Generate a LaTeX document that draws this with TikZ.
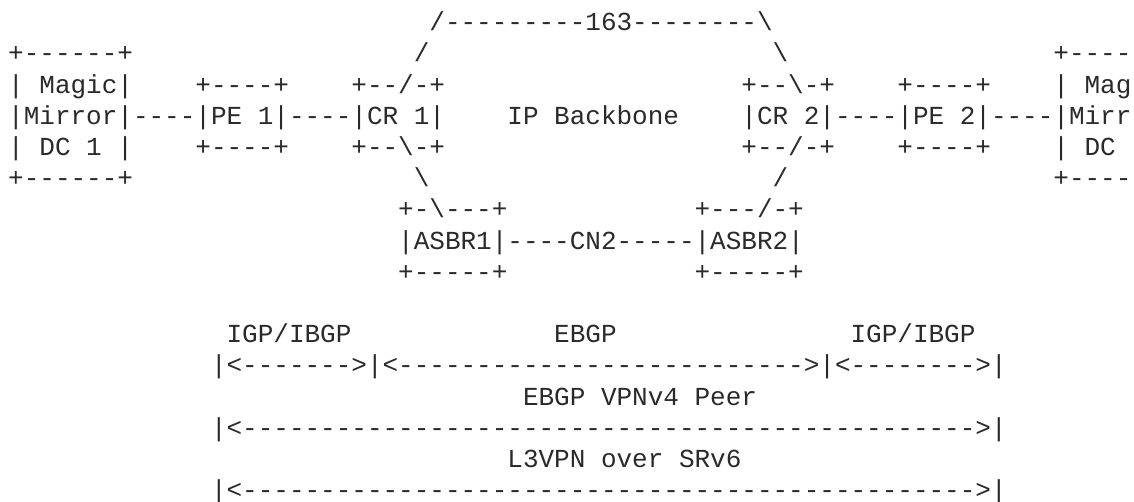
\documentclass[tikz,border=0pt]{standalone}
\usepackage{fontspec}
\setmonofont{Liberation Mono}
\definecolor{ink}{HTML}{2A2A2A}
\ExplSyntaxOn
\NewDocumentCommand\dashes{m}{\prg_replicate:nn{#1}{-}}
\ExplSyntaxOff
\tikzset{
  asc/.style={anchor=base west, inner sep=0pt, outer sep=0pt, text=ink,
    font=\ttfamily\fontsize{13pt}{15.6pt}\selectfont}
}
% \seg{col}{row}{text}
\newcommand\seg[3]{\node[asc] (s#1x#2) at ({4.1pt+7.8pt*#1},{-15.35pt-15.6pt*(#2-1)}) {#3};}
\newcommand\bs{\textbackslash}
\begin{document}
\begin{tikzpicture}
\useasboundingbox[fill=white] (0,0) rectangle (567pt,-251pt);
% row 1
\seg{27}{1}{/\dashes{9}163\dashes{8}\bs}
% row 2
\seg{0}{2}{+\dashes{6}+}
\seg{26}{2}{/}
\seg{49}{2}{\bs}
\seg{67}{2}{+\dashes{4}}
% row 3
\seg{0}{3}{|}
\seg{2}{3}{Magic|}
\seg{12}{3}{+\dashes{4}+}
\seg{22}{3}{+\dashes{2}/-+}
\seg{47}{3}{+\dashes{2}\bs-+}
\seg{57}{3}{+\dashes{4}+}
\seg{67}{3}{|}
\seg{69}{3}{Mag}
% row 4
\seg{0}{4}{|Mirror|\dashes{4}|PE}
\seg{16}{4}{1|\dashes{4}|CR}
\seg{26}{4}{1|}
\seg{32}{4}{IP}
\seg{35}{4}{Backbone}
\seg{47}{4}{|CR}
\seg{51}{4}{2|\dashes{4}|PE}
\seg{61}{4}{2|\dashes{4}|Mirr}
% row 5
\seg{0}{5}{|}
\seg{2}{5}{DC}
\seg{5}{5}{1}
\seg{7}{5}{|}
\seg{12}{5}{+\dashes{4}+}
\seg{22}{5}{+\dashes{2}\bs-+}
\seg{47}{5}{+\dashes{2}/-+}
\seg{57}{5}{+\dashes{4}+}
\seg{67}{5}{|}
\seg{69}{5}{DC}
% row 6
\seg{0}{6}{+\dashes{6}+}
\seg{26}{6}{\bs}
\seg{49}{6}{/}
\seg{67}{6}{+\dashes{4}}
% row 7
\seg{25}{7}{+-\bs\dashes{3}+}
\seg{44}{7}{+\dashes{3}/-+}
% row 8
\seg{25}{8}{|ASBR1|\dashes{4}CN2\dashes{5}|ASBR2|}
% row 9
\seg{25}{9}{+\dashes{5}+}
\seg{44}{9}{+\dashes{5}+}
% row 11
\seg{14}{11}{IGP/IBGP}
\seg{35}{11}{EBGP}
\seg{54}{11}{IGP/IBGP}
% row 12
\seg{13}{12}{|<\dashes{7}>|<\dashes{26}>|<\dashes{8}>|}
% row 13
\seg{33}{13}{EBGP}
\seg{38}{13}{VPNv4}
\seg{44}{13}{Peer}
% row 14
\seg{13}{14}{|<\dashes{47}>|}
% row 15
\seg{32}{15}{L3VPN}
\seg{38}{15}{over}
\seg{43}{15}{SRv6}
% row 16
\seg{13}{16}{|<\dashes{47}>|}
\end{tikzpicture}
\end{document}
